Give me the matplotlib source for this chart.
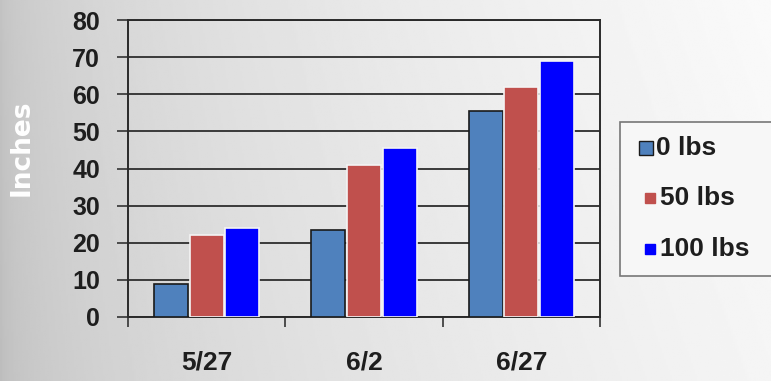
import numpy as np
import matplotlib
matplotlib.use("Agg")
import matplotlib.pyplot as plt
from matplotlib.patches import Rectangle
from matplotlib.lines import Line2D

categories = ["5/27", "6/2", "6/27"]
series_names = ["0 lbs", "50 lbs", "100 lbs"]
vals_0 = [9, 23.5, 55.5]
vals_50 = [22, 41, 62]
vals_100 = [24, 45.5, 69]
y_ticks = [0, 10, 20, 30, 40, 50, 60, 70, 80]

colors = ["#4F81BD", "#C0504D", "#0000FF"]
edges = ["#1a1a1a", "#f4f4f4", "#f4f4f4"]
TXT = "#1e1e1e"

plt.rcParams["font.family"] = ["Liberation Sans", "DejaVu Sans"]

W, H = 771, 381
fig = plt.figure(figsize=(W / 100, H / 100), dpi=100)

# gradient backdrop: darker grey on the left, fading to near white on the right
bg = fig.add_axes([0, 0, 1, 1], zorder=-10)
xs = np.linspace(0, 1, 400)
ys = np.linspace(0, 1, 200)
X, Y = np.meshgrid(xs, ys)
shade = 0.74 + 0.22 * np.sqrt(X) + 0.02 * Y
bg.imshow(shade, cmap="gray", vmin=0, vmax=1, aspect="auto",
          extent=[0, 1, 0, 1], origin="lower")
bg.axis("off")

ax = fig.add_axes([128 / W, 64 / H, 472 / W, 297 / H])
ax.patch.set_alpha(0)

x = np.arange(len(categories))
bw = 0.215
gap = 0.012
for i, (vals, c, ec) in enumerate(zip([vals_0, vals_50, vals_100], colors, edges)):
    off = (i - 1) * (bw + gap)
    ax.bar(x + off, vals, width=bw, color=c, edgecolor=ec, linewidth=1.2, zorder=3)

ax.set_xlim(-0.5, 2.5)
ax.set_ylim(0, 80)
ax.set_yticks(y_ticks)
ax.set_yticklabels([str(v) for v in y_ticks], fontsize=18, fontweight="bold", color=TXT)
ax.yaxis.grid(True, color="#3a3a3a", linewidth=1.4, zorder=0)
ax.set_axisbelow(True)

ax.set_xticks(x)
ax.set_xticklabels(categories, fontsize=19, fontweight="bold", color=TXT)
ax.tick_params(axis="x", length=0, pad=24)
ax.set_xticks([-0.5, 0.5, 1.5, 2.5], minor=True)
ax.tick_params(axis="x", which="minor", length=7, width=1.2, color="#333333", direction="out")
ax.tick_params(axis="y", length=8, width=1.2, color="#333333", pad=12)

for s in ax.spines.values():
    s.set_color("#2a2a2a")
    s.set_linewidth(1.4)

fig.text(22 / W, 1 - 148 / H, "Inches", rotation=90, color="white",
         fontsize=19, fontweight="bold", family="DejaVu Sans",
         ha="center", va="center")

# legend box with one square swatch and label per series
fig.patches.append(Rectangle((620 / W, 1 - 276 / H), 170 / W, 154 / H,
                             transform=fig.transFigure, facecolor="#f7f7f7",
                             edgecolor="#777777", linewidth=1.2, zorder=5))
entry_y = [148, 198, 249]
for i, (name, c, ec, yy) in enumerate(zip(series_names, colors, edges, entry_y)):
    if i == 0:
        mx, ms, mec, tx = 645.5, 10.5, "#1a1a1a", 655.5
    else:
        mx, ms, mec, tx = 649.5, 6.5, c, 660
    fig.add_artist(Line2D([mx / W], [1 - yy / H], marker="s", linestyle="none",
                          markersize=ms, markerfacecolor=c, markeredgecolor=mec,
                          markeredgewidth=1.0, transform=fig.transFigure, zorder=6))
    fig.text(tx / W, 1 - yy / H, name, fontsize=19, fontweight="bold", color=TXT,
             ha="left", va="center", zorder=6)

fig.savefig("out.png", dpi=100)
